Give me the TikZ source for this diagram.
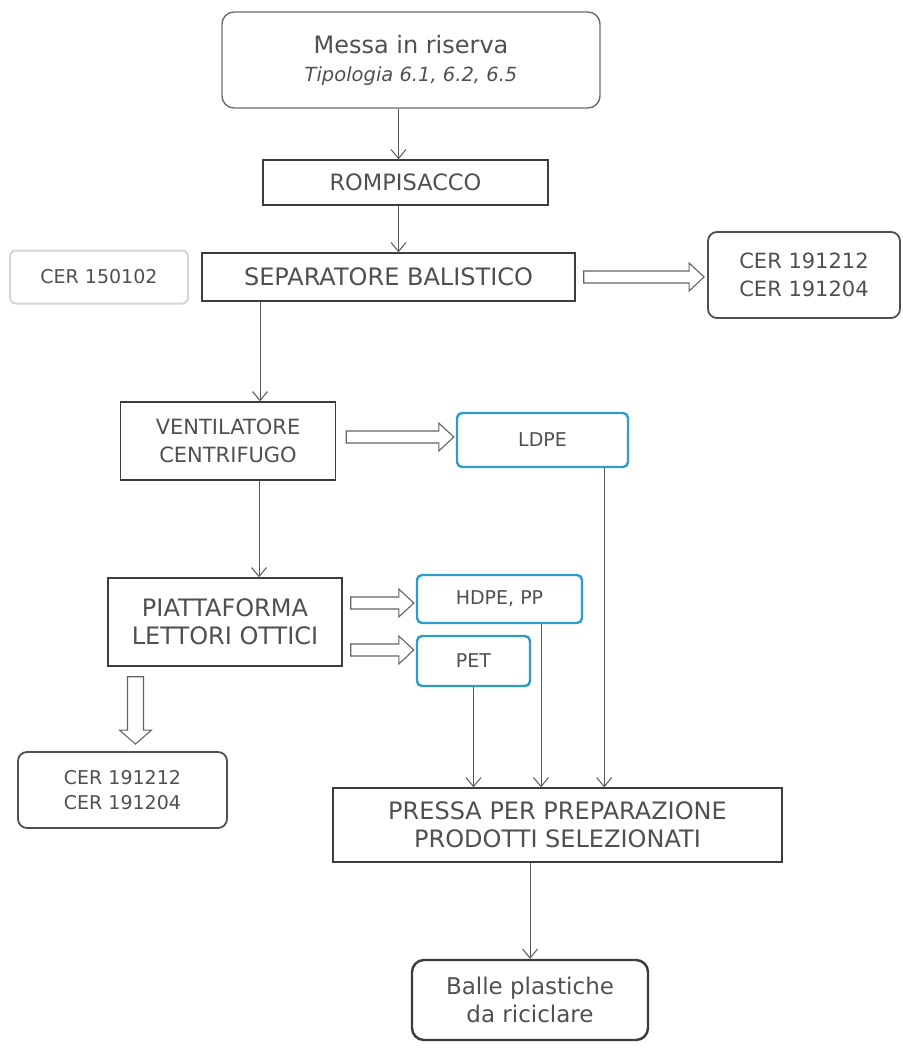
\documentclass[tikz,border=0pt]{standalone}
\usepackage{fontspec}
\setmainfont{DejaVu Sans}
\usetikzlibrary{arrows.meta,positioning,calc}
\definecolor{txtgray}{HTML}{505050}
\definecolor{boxline}{HTML}{3C3C3C}
\definecolor{sortblue}{HTML}{2E9CCB}
\definecolor{faintline}{HTML}{D6D6D6}

\begin{document}
\begin{tikzpicture}[
    x=1pt, y=-1pt,
    font=\fontsize{21}{28}\selectfont,
    every node/.style={align=center, inner sep=0pt, text=txtgray},
    process/.style={draw=boxline, line width=1.4pt, fill=white},
    rounded/.style={draw=boxline!75, line width=1.4pt, rounded corners=12pt, fill=white},
    waste/.style={draw=boxline!90, line width=1.8pt, rounded corners=9pt, fill=white},
    sorted/.style={draw=sortblue, line width=2.4pt, rounded corners=5pt, fill=white},
    small/.style={font=\fontsize{19}{25}\selectfont},
    big/.style={font=\fontsize{24}{28}\selectfont},
    thin arrow/.style={draw=boxline!85, line width=1pt, -{Straight Barb[length=9pt,width=15pt]}},
    hollow right/.style={draw=boxline!80, line width=1.1pt, to path={
        ($(\tikztostart)+(0,-6)$) -- ($(\tikztotarget)+(-15,-6)$) -- ($(\tikztotarget)+(-15,-14)$)
        -- (\tikztotarget) -- ($(\tikztotarget)+(-15,14)$) -- ($(\tikztotarget)+(-15,6)$)
        -- ($(\tikztostart)+(0,6)$) -- cycle}},
    hollow down/.style={draw=boxline!80, line width=1.1pt, to path={
        ($(\tikztostart)+(-8,0)$) -- ($(\tikztotarget)+(-8,-14)$) -- ($(\tikztotarget)+(-16,-14)$)
        -- (\tikztotarget) -- ($(\tikztotarget)+(16,-14)$) -- ($(\tikztotarget)+(8,-14)$)
        -- ($(\tikztostart)+(8,0)$) -- cycle}}
]
    \useasboundingbox (0,0) rectangle (902,1049);

    % Nodes
    \node[rounded, big, minimum width=378pt, minimum height=96pt] (top) at (411,60)
        {Messa in riserva\\{\fontsize{19.5}{24}\selectfont\itshape Tipologia 6.1, 6.2, 6.5}};
    \node[process, font=\fontsize{22.5}{27}\selectfont, minimum width=285pt, minimum height=45pt] (rompi) at (405.5,182.5) {ROMPISACCO};
    \node[process, big, minimum width=373pt, minimum height=48pt] (sep) at (388.5,277) {SEPARATORE BALISTICO};
    \node[small, draw=faintline, line width=2pt, rounded corners=6pt, minimum width=178pt, minimum height=53pt] (cer1) at (99,277) {CER 150102};
    \node[waste, minimum width=192pt, minimum height=86pt] (cer2) at (804,275) {CER 191212\\CER 191204};
    \node[process, minimum width=215pt, minimum height=78pt] (vent) at (228,441) {VENTILATORE\\CENTRIFUGO};
    \node[small, sorted, minimum width=171pt, minimum height=54pt] (ldpe) at (542.5,440) {LDPE};
    \node[process, big, minimum width=234pt, minimum height=88pt] (piatt) at (225,622) {PIATTAFORMA\\LETTORI OTTICI};
    \node[small, sorted, minimum width=165pt, minimum height=48pt] (hdpe) at (499.5,599) {HDPE, PP};
    \node[small, sorted, minimum width=113pt, minimum height=50pt] (pet) at (473.5,661) {PET};
    \node[small, waste, minimum width=209pt, minimum height=76pt] (cer3) at (122.5,790) {CER 191212\\CER 191204};
    \node[process, big, minimum width=449pt, minimum height=74pt] (pressa) at (557.5,825)
        {PRESSA PER PREPARAZIONE\\PRODOTTI SELEZIONATI};
    \node[rounded, draw=boxline, line width=2.4pt, font=\fontsize{23}{28}\selectfont, minimum width=236pt, minimum height=80pt] (balle) at (530,1000)
        {Balle plastiche\\da riciclare};

    % Entry points of the connectors
    \coordinate (rompiin) at ([xshift=-7pt]rompi.north);
    \coordinate (ventin) at ([xshift=32pt]vent.north);
    \coordinate (piattin) at ([xshift=34pt]piatt.north);
    \coordinate (ldpeout) at ([xshift=-25pt]ldpe.south east);
    \coordinate (hdpeout) at ([xshift=41.5pt]hdpe.south);
    \coordinate (seprun) at ([xshift=8pt]sep.east);
    \coordinate (cer2in) at ([xshift=-3pt]seprun -| cer2.west);
    \coordinate (ventrun) at ([xshift=10pt,yshift=4pt]vent.east);
    \coordinate (ldpein) at ([xshift=-2pt]ventrun -| ldpe.west);
    \coordinate (hdpein) at ([xshift=-2pt,yshift=-4pt]hdpe.west);
    \coordinate (piattrun1) at ([xshift=8pt]hdpein -| piatt.east);
    \coordinate (petin) at ([xshift=-2pt,yshift=11pt]pet.west);
    \coordinate (piattrun2) at ([xshift=8pt]petin -| piatt.east);
    \coordinate (cer3in) at ([xshift=13pt,yshift=7pt]cer3.north);
    \coordinate (piattdown) at ([yshift=-10pt]piatt.south -| cer3in);

    % Arrows
    \draw[thin arrow] (top.south -| rompiin) -- (rompiin);
    \draw[thin arrow] (rompi.south -| rompiin) -- (sep.north -| rompiin);
    \draw[thin arrow] (sep.south -| ventin) -- (ventin);
    \draw[thin arrow] (vent.south -| piattin) -- (piattin);
    \draw[hollow right] (seprun) to (cer2in);
    \draw[hollow right] (ventrun) to (ldpein);
    \draw[hollow right] (piattrun1) to (hdpein);
    \draw[hollow right] (piattrun2) to (petin);
    \draw[hollow down] (piattdown) to (cer3in);
    \draw[thin arrow] (ldpeout) -- (pressa.north -| ldpeout);
    \draw[thin arrow] (hdpeout) -- (pressa.north -| hdpeout);
    \draw[thin arrow] (pet.south) -- (pressa.north -| pet.south);
    \draw[thin arrow] (pressa.south -| balle.north) -- (balle.north);
\end{tikzpicture}
\end{document}
